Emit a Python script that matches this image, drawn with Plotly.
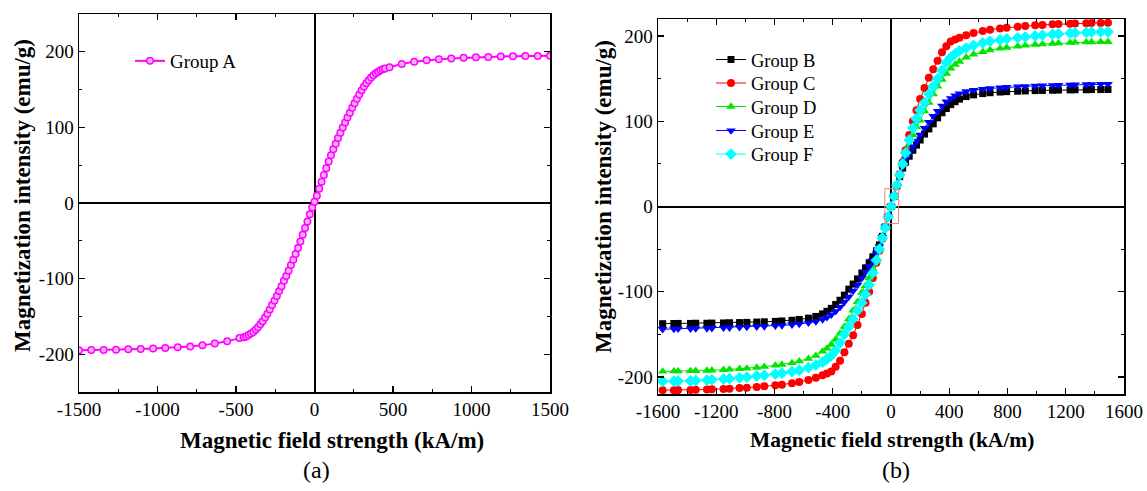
import plotly.graph_objects as go

# ---------------- data: panel (a) ----------------
H_A = [-1500, -1422, -1343, -1264, -1186, -1107, -1028, -950, -871, -792, -714, -635, -556, -478,
       -450, -435, -420, -405, -390, -375, -360, -345, -330, -315, -300, -285, -270, -255, -240,
       -225, -210, -195, -180, -165, -150, -135, -120, -105, -90, -75, -60, -45, -30, -15,
       0,
       15, 30, 45, 60, 75, 90, 105, 120, 135, 150, 165, 180, 195, 210, 225, 240, 255, 270, 285,
       300, 315, 330, 345, 360, 375, 390, 405, 420, 435, 450,
       478, 556, 635, 714, 792, 871, 950, 1028, 1107, 1186, 1264, 1343, 1422, 1500]
M_A = [-194.8, -194.6, -194.3, -194.0, -193.5, -193.0, -192.5, -191.7, -190.8, -189.7, -188.0, -186.0, -183.0, -178.5,
       -177.5, -176.5, -174.5, -172.5, -170.5, -167.5, -164.5, -160.5, -156.5, -151.5, -146.5, -141.0, -135.0, -129.0, -123.0,
       -116.5, -110.0, -103.0, -96.5, -89.5, -82.0, -75.0, -67.5, -59.5, -51.0, -42.0, -33.0, -24.5, -15.0, -6.0,
       1.5,
       9.5, 19, 28, 37, 46, 55, 63, 71, 78.5, 86, 93, 100, 106.5, 113, 119.5, 126, 132, 138, 143.5,
       149, 154, 158.5, 162.5, 166, 169, 171.5, 173.5, 175.5, 177, 178,
       179.5, 184, 187, 188.8, 190.2, 191.2, 192, 192.7, 193.2, 193.7, 194.1, 194.4, 194.6, 194.8]

# ---------------- data: panel (b) ----------------
H_R = [-1568, -1491, -1462, -1377, -1341, -1264, -1230, -1150, -1109, -1040, -990, -922, -870, -794, -749, -680, -630, -567, -516,
       -470, -440, -410, -380, -350, -320, -290, -260, -230, -200, -175, -150, -125, -100, -80, -60, -40, -20,
       0,
       20, 40, 60, 80, 100, 125, 150, 175, 200, 230, 260, 290, 320, 350, 380, 410, 440, 470,
       516, 567, 630, 680, 749, 794, 870, 922, 990, 1040, 1109, 1150, 1230, 1264, 1341, 1377, 1440, 1490]

M_B = [-137.5, -137.3, -137.2, -137.2, -137.0, -137.0, -136.8, -136.6, -136.4, -136.2, -136.0, -135.6, -135.3, -134.8, -134.3, -133.5, -132.5, -131.0, -129.0,
       -126, -123, -119.5, -115, -110, -104, -97, -91, -85, -78, -72, -66, -59, -52, -45, -35, -24, -12,
       0,
       12, 24, 35, 45, 52, 59, 66, 72, 78, 85, 91, 97, 104, 110, 115, 119.5, 123, 126,
       129, 131, 132.5, 133.5, 134.3, 134.8, 135.3, 135.6, 136, 136.2, 136.4, 136.6, 136.8, 137, 137, 137.2, 137.2, 137.3]
M_C = [-215.5, -215.5, -215.4, -215.2, -215.0, -214.7, -214.5, -214.0, -213.7, -213.1, -212.6, -211.8, -211.0, -209.8, -209.0, -207.5, -206.0, -203.5, -201.0,
       -198, -196, -193.5, -188, -181, -171, -161, -151, -139, -126, -113, -100, -84, -66, -52, -38, -25, -12,
       0,
       12, 25, 38, 52, 66, 84, 100, 113, 126, 139, 151, 161, 171, 181, 188, 193.5, 196, 198,
       201, 203.5, 206, 207.5, 209, 209.8, 211, 211.8, 212.6, 213.1, 213.7, 214, 214.5, 214.7, 215, 215.2, 215.4, 215.5]
M_D = [-193.5, -193.3, -193.2, -193.0, -192.8, -192.5, -192.2, -191.6, -191.2, -190.5, -190.0, -189.0, -188.0, -186.5, -185.5, -183.5, -181.5, -178.5, -175.0,
       -170, -166.5, -162, -156, -149, -141, -132, -122, -112, -101, -93, -84, -73, -60, -49, -37, -25, -12,
       0,
       12, 25, 37, 49, 60, 73, 84, 93, 101, 112, 122, 132, 141, 149, 156, 162, 166.5, 170,
       175, 178.5, 181.5, 183.5, 185.5, 186.5, 188, 189, 190, 190.5, 191.2, 191.6, 192.2, 192.5, 192.8, 193, 193.2, 193.3]
M_E = [-144.0, -143.6, -143.5, -143.4, -143.2, -143.0, -142.8, -142.4, -142.2, -141.8, -141.5, -141.0, -140.7, -140.0, -139.5, -138.6, -137.8, -136.5, -135.0,
       -132.5, -130, -127, -123, -118, -112, -106, -99, -92, -84, -77, -70, -63, -55, -47, -36, -24, -12,
       0,
       12, 24, 36, 47, 55, 63, 70, 77, 84, 92, 99, 106, 112, 118, 123, 127, 130, 132.5,
       135, 136.5, 137.8, 138.6, 139.5, 140, 140.7, 141, 141.5, 141.8, 142.2, 142.4, 142.8, 143, 143.2, 143.4, 143.5, 143.6]
M_F = [-205.0, -205.0, -204.8, -204.5, -204.2, -203.7, -203.3, -202.5, -202.0, -201.0, -200.2, -199.0, -198.0, -196.6, -195.6, -193.8, -192.0, -189.0, -186.0,
       -182.5, -179, -175, -169, -160, -150, -141, -132, -122, -113, -103, -92, -78, -63, -50, -37, -25, -12,
       0,
       12, 25, 37, 50, 63, 78, 92, 103, 113, 122, 132, 141, 150, 160, 169, 175, 179, 182.5,
       186, 189, 192, 193.8, 195.6, 196.6, 198, 199, 200.2, 201, 202, 202.5, 203.3, 203.7, 204.2, 204.5, 204.8, 205]

series_names = ["Group B", "Group C", "Group D", "Group E", "Group F"]
series_values = [M_B, M_C, M_D, M_E, M_F]
series_colors = ["#000000", "#ff0000", "#00e600", "#0000ff", "#00ffff"]
series_symbols = ["square", "circle", "triangle-up", "triangle-down", "diamond"]
series_sizes = [7, 8, 8.5, 8.5, 9]

# tick labels
XA_TICKS = [-1500, -1000, -500, 0, 500, 1000, 1500]
XA_LABELS = ["-1500", "-1000", "-500", "0", "500", "1000", "1500"]
XB_TICKS = [-1600, -1200, -800, -400, 0, 400, 800, 1200, 1600]
XB_LABELS = ["-1600", "-1200", "-800", "-400", "0", "400", "800", "1200", "1600"]
Y_TICKS = [-200, -100, 0, 100, 200]
Y_LABELS = ["-200", "-100", "0", "100", "200"]

# inset box near origin (panel b)
BOX_X = [-42, 52]
BOX_Y = [-20, 21]

FONT = "Liberation Serif, Times New Roman, serif"
W, H = 1147, 491

def px_x(p):
    return p / W

def px_y(p):
    return 1 - p / H

fig = go.Figure()

fig.add_trace(go.Scatter(
    x=H_A, y=M_A, mode="lines+markers", name="Group A",
    line=dict(color="#ff00ff", width=2),
    marker=dict(symbol="circle", size=6.5, color="#ffb0ff", line=dict(color="#ff00ff", width=1.5)),
    xaxis="x", yaxis="y", legend="legend"))

legend_ids = ["legend2", "legend3", "legend4", "legend5", "legend6"]
legend_centers = [60, 83.5, 107, 131, 154.5]
for name, vals, col, sym, sz, lid in zip(series_names, series_values, series_colors,
                                          series_symbols, series_sizes, legend_ids):
    fig.add_trace(go.Scatter(
        x=H_R, y=vals, mode="lines+markers", name=name,
        line=dict(color=col, width=1),
        marker=dict(symbol=sym, size=sz, color=col, line=dict(width=0)),
        xaxis="x2", yaxis="y2", legend=lid))

axis_common = dict(
    showline=True, linecolor="black", linewidth=1.5, mirror="ticks",
    ticks="inside", ticklen=6, tickwidth=1.2, tickcolor="black",
    showgrid=False, zeroline=True, zerolinecolor="black", zerolinewidth=2,
    tickfont=dict(family=FONT, size=19, color="black"),
    tickmode="array", automargin=False,
)

layout_legends = {
    "legend": dict(x=px_x(130), y=px_y(61), xanchor="left", yanchor="middle",
                   bgcolor="rgba(0,0,0,0)", borderwidth=0,
                   font=dict(family=FONT, size=19, color="black")),
}
for lid, cy in zip(legend_ids, legend_centers):
    layout_legends[lid] = dict(x=px_x(711), y=px_y(cy), xanchor="left", yanchor="middle",
                               bgcolor="rgba(0,0,0,0)", borderwidth=0,
                               font=dict(family=FONT, size=18.5, color="black"))

fig.update_layout(
    width=W, height=H, autosize=False,
    margin=dict(l=0, r=0, t=0, b=0, pad=0),
    paper_bgcolor="white", plot_bgcolor="white",
    font=dict(family=FONT, color="black"),
    xaxis=dict(domain=[px_x(79), px_x(550)], range=[-1500, 1500], anchor="y",
               tickvals=XA_TICKS, ticktext=XA_LABELS,
               minor=dict(tickmode="linear", tick0=0, dtick=250, ticks="inside", ticklen=3,
                          tickcolor="black", showgrid=False),
               **axis_common),
    yaxis=dict(domain=[px_y(392), px_y(14)], range=[-250, 250], anchor="x",
               tickvals=Y_TICKS, ticktext=Y_LABELS,
               minor=dict(tickmode="linear", tick0=0, dtick=50, ticks="inside", ticklen=3,
                          tickcolor="black", showgrid=False),
               **axis_common),
    xaxis2=dict(domain=[px_x(658), px_x(1124)], range=[-1600, 1600], anchor="y2",
                tickvals=XB_TICKS, ticktext=XB_LABELS,
                minor=dict(tickmode="linear", tick0=0, dtick=200, ticks="inside", ticklen=3,
                           tickcolor="black", showgrid=False),
                **axis_common),
    yaxis2=dict(domain=[px_y(394), px_y(19)], range=[-220, 220], anchor="x2",
                tickvals=Y_TICKS, ticktext=Y_LABELS,
                minor=dict(tickmode="linear", tick0=0, dtick=50, ticks="inside", ticklen=3,
                           tickcolor="black", showgrid=False),
                **axis_common),
    showlegend=True,
    **layout_legends,
)

fig.add_shape(type="rect", xref="x2", yref="y2", x0=BOX_X[0], x1=BOX_X[1], y0=BOX_Y[0], y1=BOX_Y[1],
              line=dict(color="#f08080", width=1), fillcolor="rgba(0,0,0,0)", layer="above")

annots = [
    dict(text="<b>Magnetic field strength (kA/m)</b>", x=px_x(332), y=px_y(440), textangle=0, size=23),
    dict(text="<b>Magnetic field strength (kA/m)</b>", x=px_x(892), y=px_y(440), textangle=0, size=21.5),
    dict(text="<b>Magnetization intensity (emu/g)</b>", x=px_x(22), y=px_y(196), textangle=-90, size=23),
    dict(text="<b>Magnetization intensity (emu/g)</b>", x=px_x(603), y=px_y(197), textangle=-90, size=23),
]
for a in annots:
    sz = a.pop("size")
    fig.add_annotation(xref="paper", yref="paper", showarrow=False, xanchor="center", yanchor="middle",
                       font=dict(family=FONT, size=sz, color="black"), **a)

for txt, xp in [("(a)", 316), ("(b)", 896)]:
    fig.add_annotation(text=txt, xref="paper", yref="paper", x=px_x(xp), y=px_y(470),
                       showarrow=False, xanchor="center", yanchor="middle",
                       font=dict(family=FONT, size=24, color="black"))

fig.write_html("out.html",
               config={"displayModeBar": False, "staticPlot": True},
               post_script="document.body.style.margin='0';document.body.style.padding='0';document.body.style.overflow='hidden';")
